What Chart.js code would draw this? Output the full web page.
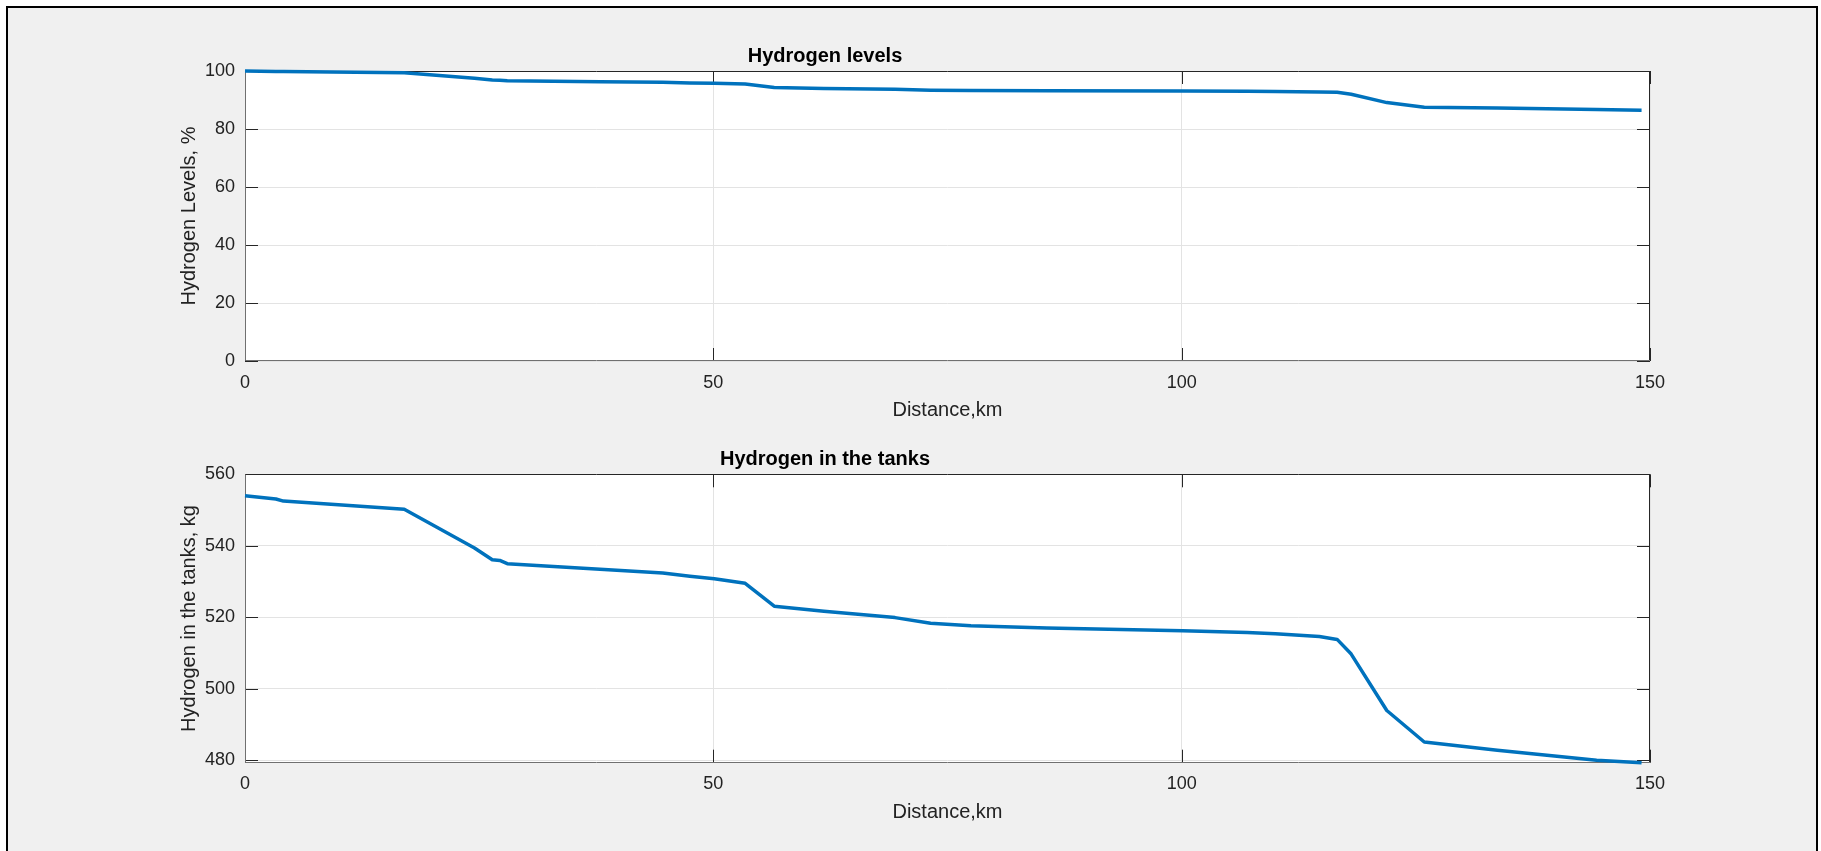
<!DOCTYPE html>
<html>
<head>
<meta charset="utf-8">
<title>Hydrogen levels</title>
<script src="https://cdn.jsdelivr.net/npm/chart.js@4.4.1/dist/chart.umd.min.js"></script>
<style>
    html, body { margin: 0; padding: 0; background: #fff; }
    .frame {
        position: absolute; left: 6px; top: 6px;
        width: 1808px; height: 900px;
        border: 2px solid #000; border-bottom: none;
        background: #f0f0f0;
    }
    canvas { position: absolute; left: 0; }
    #levels { top: 0; }
    #tanks { top: 430px; }
</style>
</head>
<body>
<div class="frame"></div>
<canvas id="levels" width="1821" height="430"></canvas>
<canvas id="tanks" width="1821" height="421"></canvas>
<script>
// #region data
const distanceKm = [0, 3.3, 4.1, 17.0, 24.5, 26.4, 27.2, 28.0, 37.9, 44.6, 47.5, 50.1, 53.4, 56.5, 61.8,
    69.4, 73.2, 77.5, 85.6, 100.1, 107.0, 110.0, 114.7, 116.6, 118.1, 121.9, 125.9, 133.7, 144.3, 149.1];

const levelsPct = [100.0, 99.85, 99.8, 99.4, 97.5, 96.9, 96.8, 96.6, 96.3, 96.1, 95.9, 95.8, 95.5, 94.3, 94.0,
    93.7, 93.4, 93.3, 93.2, 93.1, 93.0, 92.9, 92.8, 92.7, 92.0, 89.1, 87.5, 87.2, 86.7, 86.5];

const tankKg = [554.0, 553.1, 552.5, 550.2, 539.4, 536.1, 535.9, 535.0, 533.4, 532.4, 531.5, 530.8, 529.5, 523.1, 521.7,
    519.9, 518.3, 517.6, 517.0, 516.2, 515.7, 515.4, 514.6, 513.8, 509.7, 493.9, 485.1, 482.8, 480.0, 479.3];

const xTicks = [0, 50, 100, 150];
const levelsTicks = [0, 20, 40, 60, 80, 100];
const tankTicks = [480, 500, 520, 540, 560];
// #endregion data

const
    FONT = '"Liberation Sans", Arial, Helvetica, sans-serif',
    LINE_BLUE = '#0072BD',
    TEXT_GREY = '#222222',
    GRID_GREY = '#e3e3e3';

Chart.defaults.font.family = FONT;

// white plot area, box and inward tick marks, like a matlab axes
const matlabAxes = {
    id: 'matlabAxes',
    beforeDraw(chart) {
        const { ctx, chartArea: a } = chart;
        ctx.save();
        ctx.fillStyle = '#fff';
        ctx.fillRect(a.left, a.top, a.right - a.left, a.bottom - a.top);
        ctx.restore();
    },
    beforeDatasetsDraw(chart) {
        const { ctx, chartArea: a, scales } = chart;
        const len = 13;
        ctx.save();
        ctx.lineWidth = 1;
        ctx.strokeStyle = '#262626';
        ctx.beginPath();
        scales.x.ticks.forEach(t => {
            const px = Math.round(scales.x.getPixelForValue(t.value)) + 0.5;
            ctx.moveTo(px, a.bottom); ctx.lineTo(px, a.bottom - len);
            ctx.moveTo(px, a.top); ctx.lineTo(px, a.top + len);
        });
        scales.y.ticks.forEach(t => {
            const py = Math.round(scales.y.getPixelForValue(t.value)) + 0.5;
            ctx.moveTo(a.left, py); ctx.lineTo(a.left + len, py);
            ctx.moveTo(a.right, py); ctx.lineTo(a.right - len, py);
        });
        ctx.stroke();

        const l = Math.round(a.left) + 0.5, r = Math.round(a.right) - 0.5,
            t = Math.round(a.top) + 0.5, b = Math.round(a.bottom) - 0.5;
        ctx.strokeStyle = '#262626';
        ctx.beginPath();
        ctx.moveTo(l, t); ctx.lineTo(r, t); ctx.lineTo(r, b);
        ctx.stroke();
        ctx.strokeStyle = '#707070';
        ctx.beginPath();
        ctx.moveTo(l, t); ctx.lineTo(l, b); ctx.lineTo(r, b);
        ctx.stroke();
        ctx.restore();
    }
};

function points(ys) {
    return distanceKm.map((x, i) => ({ x: x, y: ys[i] }));
}

function makeChart(canvas, cfg) {
    return new Chart(canvas.getContext('2d'), {
        type: 'line',
        data: {
            datasets: [{
                data: points(cfg.values),
                borderColor: LINE_BLUE,
                borderWidth: 3.5,
                borderJoinStyle: 'round',
                pointRadius: 0,
                tension: 0,
                fill: false,
                clip: 4
            }]
        },
        options: {
            responsive: false,
            animation: false,
            events: [],
            layout: { padding: { left: 0, right: 171, top: 0, bottom: 0 } },
            plugins: {
                legend: { display: false },
                tooltip: { enabled: false },
                title: {
                    display: true,
                    text: cfg.title,
                    color: '#000',
                    font: { size: 20, weight: 'bold' },
                    padding: cfg.titlePad
                }
            },
            scales: {
                x: {
                    type: 'linear',
                    min: xTicks[0],
                    max: xTicks[xTicks.length - 1],
                    afterBuildTicks: s => { s.ticks = xTicks.map(v => ({ value: v })); },
                    border: { display: false },
                    grid: { color: GRID_GREY, drawTicks: false },
                    ticks: { padding: 11, color: TEXT_GREY, font: { size: 18 }, maxRotation: 0 },
                    title: {
                        display: true, text: 'Distance,km', color: TEXT_GREY,
                        font: { size: 20 }, padding: { top: 0, bottom: cfg.xTitleBottom }
                    },
                    afterFit: s => { s.height = cfg.xHeight; }
                },
                y: {
                    type: 'linear',
                    min: cfg.yMin,
                    max: cfg.yMax,
                    afterBuildTicks: s => { s.ticks = cfg.yTicks.map(v => ({ value: v })); },
                    border: { display: false },
                    grid: { color: GRID_GREY, drawTicks: false },
                    ticks: { padding: 10, color: TEXT_GREY, font: { size: 18 } },
                    title: {
                        display: true, text: cfg.yTitle, color: TEXT_GREY,
                        font: { size: 20 }, padding: { top: 177, bottom: 0 }
                    },
                    afterFit: s => { s.width = 245; }
                }
            }
        },
        plugins: [matlabAxes]
    });
}

makeChart(document.querySelector('#levels'), {
    title: 'Hydrogen levels',
    titlePad: { top: 44.7, bottom: 2.3 },
    values: levelsPct,
    yTitle: 'Hydrogen Levels, %',
    yMin: 0, yMax: 100, yTicks: levelsTicks,
    xHeight: 69, xTitleBottom: 8
});

makeChart(document.querySelector('#tanks'), {
    title: 'Hydrogen in the tanks',
    titlePad: { top: 17.2, bottom: 3.1 },
    values: tankKg,
    yTitle: 'Hydrogen in the tanks, kg',
    yMin: 479.3, yMax: 560, yTicks: tankTicks,
    xHeight: 88.3, xTitleBottom: 26.5
});
</script>
</body>
</html>
